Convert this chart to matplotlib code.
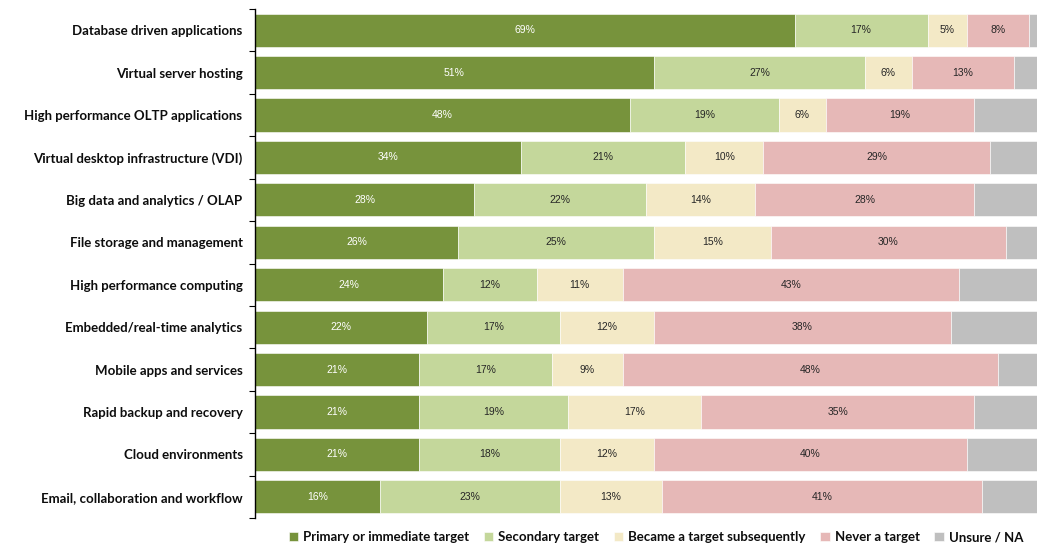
import matplotlib
matplotlib.use("Agg")
import matplotlib.pyplot as plt
import numpy as np

categories = [
    "Database driven applications",
    "Virtual server hosting",
    "High performance OLTP applications",
    "Virtual desktop infrastructure (VDI)",
    "Big data and analytics / OLAP",
    "File storage and management",
    "High performance computing",
    "Embedded/real-time analytics",
    "Mobile apps and services",
    "Rapid backup and recovery",
    "Cloud environments",
    "Email, collaboration and workflow",
]
primary = [69, 51, 48, 34, 28, 26, 24, 22, 21, 21, 21, 16]
secondary = [17, 27, 19, 21, 22, 25, 12, 17, 17, 19, 18, 23]
became = [5, 6, 6, 10, 14, 15, 11, 12, 9, 17, 12, 13]
never = [8, 13, 19, 29, 28, 30, 43, 38, 48, 35, 40, 41]
unsure = [1, 3, 8, 6, 8, 4, 10, 11, 5, 8, 9, 7]

series_names = ["Primary or immediate target", "Secondary target",
                "Became a target subsequently", "Never a target", "Unsure / NA"]
series = [primary, secondary, became, never, unsure]
colors = ["#77933C", "#C4D79B", "#F3E9C6", "#E6B8B7", "#BFBFBF"]
label_colors = ["white", "#262626", "#262626", "#262626", None]

plt.rcParams['font.family'] = ['Lato', 'DejaVu Sans']

fig = plt.figure(figsize=(10.39, 5.48), dpi=100)
ax = fig.add_axes([255/1039, 30/548, 782/1039, 509/548])

y = np.arange(len(categories))
left = np.zeros(len(categories))
for name, vals, c, lc in zip(series_names, series, colors, label_colors):
    vals = np.array(vals, dtype=float)
    ax.barh(y, vals, left=left, height=0.78, color=c, label=name,
            edgecolor="white", linewidth=0.4)
    if lc is not None:
        for yi, l, v in zip(y, left, vals):
            ax.text(l + v / 2, yi, f"{int(v)}%", ha="center", va="center",
                    fontsize=7.5, color=lc,
                    family=['Liberation Sans Narrow', 'Liberation Sans', 'DejaVu Sans'])
    left += vals

ax.set_xlim(0, 100)
ax.set_ylim(len(categories) - 0.5, -0.5)
ax.set_yticks(y)
ax.set_yticklabels(categories, fontsize=9.5, fontweight="bold", color="#0d0d0d")
ax.set_yticks(np.arange(-0.5, len(categories), 1), minor=True)
ax.tick_params(axis="y", which="major", length=0, pad=9)
ax.tick_params(axis="y", which="minor", length=4, width=0.8, direction="out")
ax.set_xticks([])
for s in ["top", "right", "bottom"]:
    ax.spines[s].set_visible(False)
ax.spines["left"].set_linewidth(1.0)
ax.spines["left"].set_color("black")

leg = fig.legend(loc="center", bbox_to_anchor=(656/1039, 1 - 537/548), ncol=5,
                 frameon=False, fontsize=9.5, handlelength=0.7, handleheight=0.7,
                 handletextpad=0.4, columnspacing=1.1)
for t in leg.get_texts():
    t.set_fontweight("bold")
    t.set_color("#0d0d0d")

fig.savefig("out.png", dpi=100)
